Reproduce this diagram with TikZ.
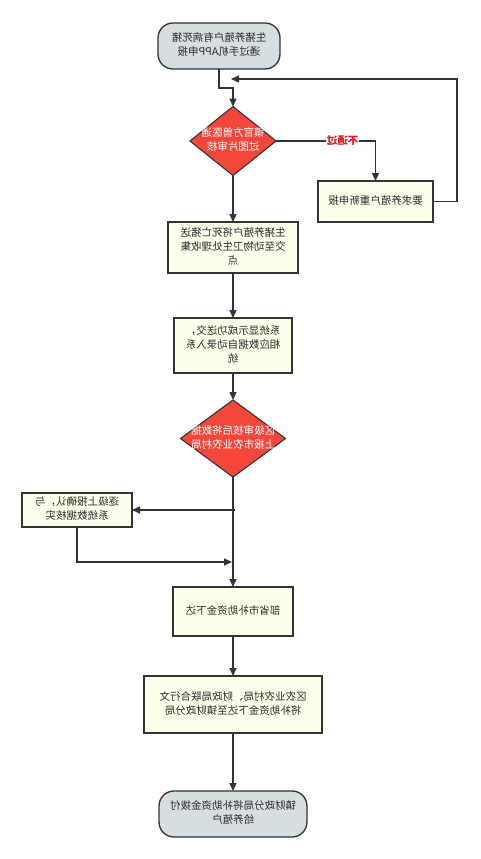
\documentclass[tikz,border=0pt]{standalone}
\usepackage{fontspec}
\setmainfont{Noto Sans CJK SC}
\usetikzlibrary{arrows.meta,shapes.geometric,positioning}
\definecolor{lnc}{HTML}{333333}
\definecolor{termfill}{HTML}{D6DEE2}
\definecolor{procfill}{HTML}{FEFEEC}
\definecolor{decfill}{HTML}{F4473B}
\definecolor{nored}{HTML}{E8141B}
\newcommand{\mtxt}[1]{\reflectbox{\begin{tabular}{@{}c@{}}#1\end{tabular}}}
\begin{document}
\begin{tikzpicture}[x=1pt,y=-1pt,
  font=\fontsize{10.5pt}{14pt}\selectfont,
  every node/.style={inner sep=0pt,outer sep=0pt},
  term/.style={draw=lnc,line width=1.3pt,fill=termfill,rounded corners=15pt,text=lnc!85!black},
  proc/.style={draw=lnc,line width=1.3pt,fill=procfill,text=lnc!85!black},
  dec/.style={draw=lnc,line width=1.1pt,fill=decfill,diamond,aspect=1.25,text=white},
  arr/.style={draw=lnc,line width=1.3pt,-{Triangle[length=8pt,width=7pt]}},
  ln/.style={draw=lnc,line width=1.3pt}]
\useasboundingbox (0,0) rectangle (481,859);
\fill[white] (0,0) rectangle (481,859);
% nodes
\node[term,minimum width=122pt,minimum height=46pt] (t1) at (219,46) {\mtxt{生猪养殖户有病死猪\\通过手机APP申报}};
\node[dec,minimum width=86pt,minimum height=69pt] (d1) at (233,141) {};
\node[text=white] at (233,141) {\mtxt{镇官方兽医通\\过图片审核}};
\node[proc,minimum width=115pt,minimum height=41pt] (r1) at (375.5,201.5) {\mtxt{要求养殖户重新申报}};
\node[proc,minimum width=130pt,minimum height=51pt] (b2) at (233,247.5) {\mtxt{生猪养殖户将死亡猪送\\交至动物卫生处理收集\\点}};
\node[proc,minimum width=118pt,minimum height=55pt] (b3) at (233,345.5) {\mtxt{系统显示成功送交，\\相应数据自动录入系\\统}};
\node[dec,minimum width=105pt,minimum height=77pt] (d2) at (233,438.5) {};
\node[text=white] at (233,438.5) {\mtxt{区级审核后将数据\\上报市农业农村局}};
\node[proc,minimum width=110pt,minimum height=34pt] (b4) at (77,510) {\mtxt{逐级上报确认，与\\系统数据核实}};
\node[proc,minimum width=120pt,minimum height=49pt] (b5) at (233,611.5) {\mtxt{部省市补助资金下达}};
\node[proc,minimum width=178pt,minimum height=57pt] (b6) at (233,704.5) {\mtxt{区农业农村局、财政局联合行文\\将补助资金下达至镇财政分局}};
\node[term,minimum width=148pt,minimum height=46pt] (t2) at (233,814) {\mtxt{镇财政分局将补助资金拨付\\给养殖户}};
% coordinates
\coordinate (loopend) at (231,79);
\coordinate (m1) at (234.5,510);
\coordinate (m2) at (232,562);
% connectors
\draw[arr] (t1.south) -- ++(0,19) -| (d1.north);
\draw[arr] (d1.east) -| node[pos=0.335,fill=white,inner sep=1pt,text=nored,font=\fontsize{10.5pt}{12pt}\selectfont\bfseries] {\reflectbox{不通过}} (r1.north);
\draw[arr] (r1.east) -- ++(24,0) |- (loopend);
\draw[arr] (d1.south) -- (b2.north);
\draw[arr] (b2.south) -- (b3.north);
\draw[arr] (b3.south) -- (d2.north);
\draw[arr] (d2.south) -- (b5.north);
\draw[arr] (m1) -- (b4.east);
\draw[arr] (b4.south) |- (m2);
\draw[arr] (b5.south) -- (b6.north);
\draw[arr] (b6.south) -- (t2.north);
\end{tikzpicture}
\end{document}
